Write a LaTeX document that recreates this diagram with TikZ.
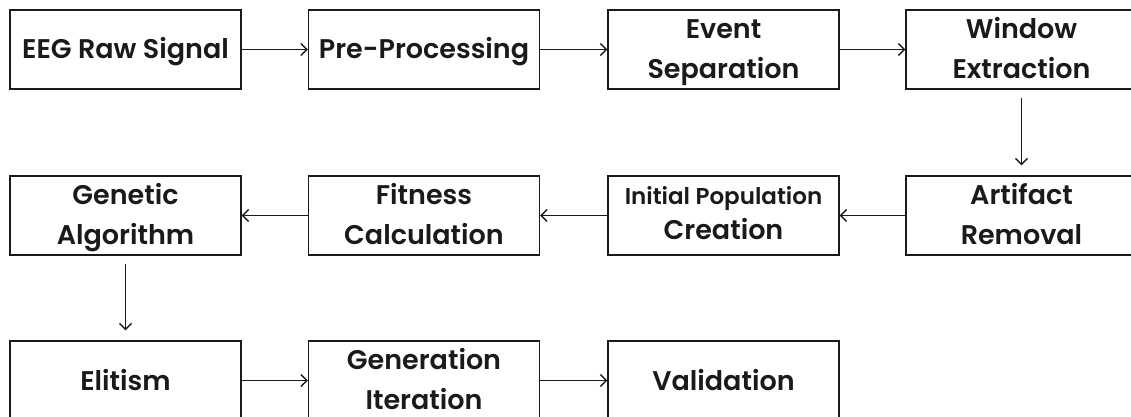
\documentclass[tikz,border=0pt]{standalone}
\usepackage{fontspec}
\setmainfont{Poppins}[BoldFont={Poppins SemiBold}]
\usetikzlibrary{arrows.meta}
\definecolor{ink}{HTML}{1A1A1A}
\begin{document}
\begin{tikzpicture}[x=1pt,y=-1pt,
  stage/.style={draw=ink, line width=1.4pt, minimum width=231pt, minimum height=79pt,
    inner sep=0pt, align=center, text=ink, text height=19pt, text depth=-4pt,
    font=\fontsize{27}{40}\selectfont\bfseries},
  twoline/.style={stage, text height=58pt, text depth=-1pt},
  flow/.style={draw=ink, line width=1.3pt, -{Straight Barb[length=6pt,width=12pt]}},
  drop/.style={flow, shorten <=8pt, shorten >=10pt}]
\useasboundingbox (0,0) rectangle (1131,417);

% first row: signal preparation
\node[stage] (eeg) at (125.5,49.5) {EEG Raw Signal};
\node[stage] (pre) at (424,49.5) {Pre-Processing};
\node[twoline] (evt) at (723.5,49.5) {Event\\Separation};
\node[twoline] (win) at (1021.5,49.5) {Window\\Extraction};

% second row: runs right to left
\node[twoline] (art) at (1021.5,215.5) {Artifact\\Removal};
\node[stage, text height=51pt, text depth=3pt] (ini) at (723.5,215.5)
  {{\fontsize{23}{35}\selectfont Initial Population}\\[-5pt]Creation};
\node[twoline] (fit) at (424,215.5) {Fitness\\Calculation};
\node[twoline] (gen) at (125.5,215.5) {Genetic\\Algorithm};

% third row: optimisation loop and validation
\node[stage] (eli) at (125.5,380.5) {Elitism};
\node[twoline] (itr) at (424,380.5) {Generation\\Iteration};
\node[stage] (val) at (723.5,380.5) {Validation};

\draw[flow] (eeg) -- (pre);
\draw[flow] (pre) -- (evt);
\draw[flow] (evt) -- (win);
\draw[drop] (win) -- (art);
\draw[flow] (art) -- (ini);
\draw[flow] (ini) -- (fit);
\draw[flow] (fit) -- (gen);
\draw[drop] (gen) -- (eli);
\draw[flow] (eli) -- (itr);
\draw[flow] (itr) -- (val);
\end{tikzpicture}
\end{document}
